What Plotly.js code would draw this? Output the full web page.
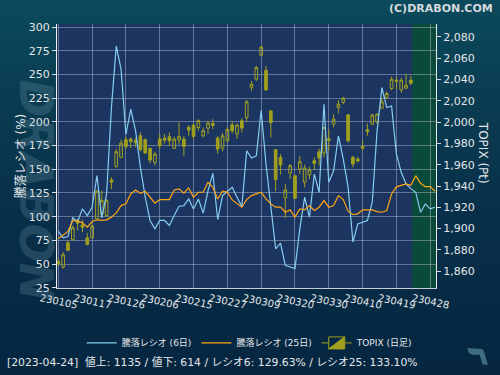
<!DOCTYPE html>
<html>
<head>
<meta charset="utf-8">
<script src="https://cdn.plot.ly/plotly-3.0.1.min.js"></script>
<style>
  html, body { margin: 0; padding: 0; }
  #chart { width: 500px; height: 375px;
    background: linear-gradient(to bottom, #0b4a5c 0%, #0a3d52 25%, #08304a 55%, #062640 100%); }
</style>
</head>
<body>
<div id="chart"></div>
<script>
// ---- data ----
const dates = [
  "230105","230106","230110","230111","230112","230113","230116","230117","230118","230119",
  "230120","230123","230124","230125","230126","230127","230130","230131","230201","230202",
  "230203","230206","230207","230208","230209","230210","230213","230214","230215","230216",
  "230217","230220","230221","230222","230224","230227","230228","230301","230302","230303",
  "230306","230307","230309","230310","230313","230314","230315","230316","230317","230320",
  "230322","230323","230324","230327","230328","230329","230330","230331","230403","230404",
  "230405","230406","230407","230410","230411","230412","230413","230414","230417","230418",
  "230419","230420","230421","230424","230425","230426","230427","230428","230501"
];
const tickDates = ["230105","230117","230126","230206","230215","230227","230309","230320","230330","230410","230419","230428"];

const topixOpen = [1869.2,1863.9,1886.6,1889.5,1907.6,1903.5,1891.3,1891.3,1909.1,1913.8,
  1912.3,1945.7,1958.2,1966.9,1983.5,1984.1,1982.5,1987.2,1983.5,1975.3,
  1962.2,1984.1,1985.0,1986.3,1975.3,1983.1,1984.1,1995.0,1997.2,1995.0,
  1987.2,1994.4,1998.8,1985.0,1975.6,1982.5,1997.5,1988.8,2001.3,2004.4,
  2032.5,2040.3,2062.8,2048.7,2010.6,1974.1,1966.9,1928.8,1952.2,1949.7,
  1956.0,1943.5,1950.4,1963.8,1972.2,1971.0,1984.4,1998.1,2013.7,2018.7,
  2006.9,1966.9,1965.3,1977.2,1992.8,1998.1,2000.3,2013.1,2023.1,2031.5,
  2039.4,2030.3,2031.9,2039.4];
const topixHigh = [1872.6,1877.9,1888.8,1902.9,1909.1,1908.2,1896.0,1903.8,1936.3,1935.7,
  1927.9,1948.2,1974.7,1983.5,1986.3,1985.6,1985.0,1990.3,1984.7,1976.3,
  1972.2,1988.8,1988.8,1990.3,1986.3,1999.7,1987.2,1997.2,1998.8,2002.8,
  1995.0,2001.3,2002.8,1987.2,1989.7,1995.0,2001.3,1998.8,2003.8,2020.6,
  2038.7,2052.8,2071.5,2052.8,2011.0,1974.7,1970.0,1941.9,1960.7,1950.4,
  1968.5,1960.0,1958.2,1966.9,1975.3,1995.6,1993.5,2007.5,2020.6,2023.7,
  2007.5,1968.5,1967.5,1982.5,1998.8,2008.1,2008.1,2023.1,2028.7,2042.8,
  2042.5,2041.9,2045.6,2043.4];
const topixLow = [1864.5,1862.3,1878.9,1888.8,1898.2,1896.6,1884.2,1890.4,1908.2,1910.7,
  1910.7,1937.2,1957.5,1966.5,1974.7,1975.6,1976.3,1972.5,1970.0,1961.3,
  1959.1,1974.7,1980.0,1977.8,1974.7,1978.8,1968.5,1987.2,1984.1,1991.9,
  1985.6,1988.8,1993.5,1970.0,1972.5,1981.0,1989.4,1984.1,1990.3,2000.6,
  2029.4,2038.7,2062.1,2029.4,1985.6,1935.1,1950.7,1910.1,1946.6,1928.3,
  1951.3,1938.8,1946.6,1955.0,1959.1,1966.9,1973.2,1995.0,2008.1,2016.9,
  1981.0,1957.5,1962.2,1973.2,1987.2,1997.5,1998.1,2012.2,2021.6,2030.0,
  2030.9,2027.8,2030.9,2034.7];
const topixClose = [1867.0,1875.4,1879.5,1900.7,1905.1,1901.3,1885.1,1902.3,1935.1,1926.3,
  1926.3,1943.5,1972.2,1980.3,1977.2,1981.9,1980.6,1974.1,1971.0,1964.4,
  1970.0,1977.8,1983.1,1982.5,1984.1,1986.3,1977.2,1992.5,1986.6,2001.3,
  1991.9,1999.1,1996.9,1974.7,1987.2,1993.1,1991.9,1997.2,1994.4,2019.1,
  2035.6,2051.2,2070.6,2030.3,1999.7,1946.0,1959.7,1936.3,1959.1,1928.5,
  1962.8,1956.9,1955.0,1961.3,1966.3,1995.0,1983.1,2002.8,2016.9,2022.5,
  1982.5,1960.7,1963.5,1975.6,1991.0,2006.6,2007.5,2019.1,2026.9,2040.3,
  2038.1,2039.4,2034.7,2036.5];

const ratio6 = [84.4,77.7,79.1,98.8,94.9,108.2,101.2,110.0,143.3,98.8,
  124.0,215.2,280.0,255.5,187.1,213.4,190.6,152.0,120.5,96.0,
  87.2,96.0,96.0,90.7,101.2,111.0,111.7,118.7,108.2,118.7,
  103.7,127.5,145.7,97.0,122.2,126.8,131.0,120.5,110.7,169.6,
  161.9,164.3,212.3,155.6,111.7,66.1,72.1,48.6,46.9,45.1,
  87.2,120.5,99.5,145.0,125.8,218.7,136.3,148.5,185.4,160.8,
  131.0,73.2,92.4,94.2,96.0,115.2,190.6,236.2,215.2,216.9,
  166.1,146.8,134.5,129.6,125.8,104.7,113.5,108.2,110.0];
const ratio25 = [76.7,80.2,84.4,96.0,95.3,93.5,88.9,94.9,96.7,96.0,
  96.7,99.5,104.0,111.7,113.5,124.0,128.2,124.7,126.8,120.5,
  114.2,118.0,118.0,118.0,128.2,129.3,124.7,130.3,120.5,125.8,
  125.8,136.3,131.0,118.7,126.8,125.8,117.7,113.5,110.0,118.0,
  122.2,124.0,125.8,118.7,113.5,110.0,110.0,104.7,107.2,99.5,
  108.2,107.2,111.7,106.5,110.0,117.0,110.0,111.7,122.2,118.0,
  105.8,102.3,103.0,107.2,107.2,107.2,105.4,104.7,106.5,124.0,
  131.5,132.8,134.5,133.1,143.3,135.2,131.7,131.7,126.8];

const candleDates = dates.slice(0, topixOpen.length);

// ---- styling ----
const FONT = "DejaVu Sans, Noto Sans CJK JP, sans-serif";
const OLIVE = "#a0a01e";
const GRID = "rgba(200,205,225,0.42)";
const TXT = "#e4e6ea";

const traces = [
  {
    type: "candlestick", name: "TOPIX (日足)", x: candleDates,
    open: topixOpen, high: topixHigh, low: topixLow, close: topixClose,
    yaxis: "y", legendrank: 3,
    increasing: { line: { color: OLIVE, width: 1 }, fillcolor: "rgba(0,0,0,0)" },
    decreasing: { line: { color: OLIVE, width: 1 }, fillcolor: OLIVE },
    whiskerwidth: 0, hoverinfo: "skip"
  },
  {
    type: "scatter", mode: "lines", name: "騰落レシオ (6日)", x: dates, y: ratio6,
    yaxis: "y2", legendrank: 1, line: { color: "#86cdef", width: 1.2 }
  },
  {
    type: "scatter", mode: "lines", name: "騰落レシオ (25日)", x: dates, y: ratio25,
    yaxis: "y2", legendrank: 2, line: { color: "#ffa514", width: 1.2 }
  }
];

const layout = {
  width: 500, height: 375,
  margin: { l: 57, r: 63.5, t: 23.5, b: 87 },
  paper_bgcolor: "rgba(0,0,0,0)",
  plot_bgcolor: "#1b3460",
  font: { family: FONT, color: TXT, size: 11 },
  showlegend: true,
  boxgap: 0.45, boxgroupgap: 0,
  xaxis: {
    type: "category", categoryorder: "array", categoryarray: dates,
    range: [-0.27, 78.2], rangeslider: { visible: false },
    tickvals: tickDates, ticktext: tickDates, tickangle: 12, ticklabelshift: -18,
    tickfont: { size: 10, color: TXT },
    showgrid: true, gridcolor: GRID, gridwidth: 1,
    showline: true, linecolor: "#c8ccd8", linewidth: 1, ticks: "",
    fixedrange: true
  },
  yaxis: {
    side: "right", range: [1844.2, 2092.2], dtick: 20, tick0: 1860, tickformat: ",",
    showgrid: false, zeroline: false,
    ticks: "outside", ticklen: 4, tickcolor: "#d8dbe2",
    showline: true, linecolor: "#e8eaee", linewidth: 1,
    tickfont: { size: 11, color: TXT }, fixedrange: true
  },
  yaxis2: {
    overlaying: "y", side: "left", range: [24.7, 303.4], dtick: 25, tick0: 0,
    showgrid: true, gridcolor: GRID, gridwidth: 1, zeroline: false,
    ticks: "outside", ticklen: 4, tickcolor: "#d8dbe2",
    showline: true, linecolor: "#f0f2f4", linewidth: 1,
    tickfont: { size: 11, color: TXT },
    title: { text: "騰落レシオ (%)", font: { size: 12, color: TXT }, standoff: 0 },
    fixedrange: true
  },
  legend: {
    orientation: "h", x: 0.5086, xanchor: "center", y: -0.208, yanchor: "middle",
    font: { size: 9, color: TXT }, bgcolor: "rgba(0,0,0,0)", traceorder: "normal"
  },
  shapes: [
    { type: "rect", xref: "x", yref: "paper", x0: 73.3, x1: 78.2, y0: 0, y1: 1,
      fillcolor: "#0a4a3a", line: { width: 0 }, layer: "below" },
    { type: "path", xref: "paper", yref: "paper",
      path: "M1.0830,-0.2268 L1.1225,-0.2306 L1.1278,-0.2457 L1.1370,-0.2911 L1.1238,-0.2911 L1.1146,-0.2533 L1.0962,-0.2533 L1.0856,-0.2457 Z",
      fillcolor: "#3d6d7e", line: { width: 0 } }
  ],
  annotations: [
    { text: "<b><i>DRABON</i></b>", xref: "paper", yref: "paper", x: -0.0553, y: 0.3705,
      xanchor: "center", yanchor: "middle", textangle: 90, showarrow: false,
      font: { family: FONT, size: 46, color: "rgba(130,170,185,0.22)" } },
    { text: "<b>(C)DRABON.COM</b>", xref: "paper", yref: "paper", x: 1.1568, y: 1.0586,
      xanchor: "right", yanchor: "middle", showarrow: false,
      font: { family: FONT, size: 11, color: "#d4dadd" } },
    { text: "TOPIX (Pt)", xref: "paper", yref: "paper", x: 1.1225, y: 0.5104,
      xanchor: "center", yanchor: "middle", textangle: 90, showarrow: false,
      font: { family: FONT, size: 12, color: TXT } },
    { text: "[2023-04-24]  値上: 1135 / 値下: 614 / レシオ6: 129.63% / レシオ25: 133.10%",
      xref: "paper", yref: "paper", x: -0.137, y: -0.2836, xanchor: "left", yanchor: "middle",
      showarrow: false, font: { family: FONT, size: 10.8, color: TXT } }
  ]
};

Plotly.newPlot("chart", traces, layout, { displayModeBar: false, staticPlot: true });
</script>
</body>
</html>
